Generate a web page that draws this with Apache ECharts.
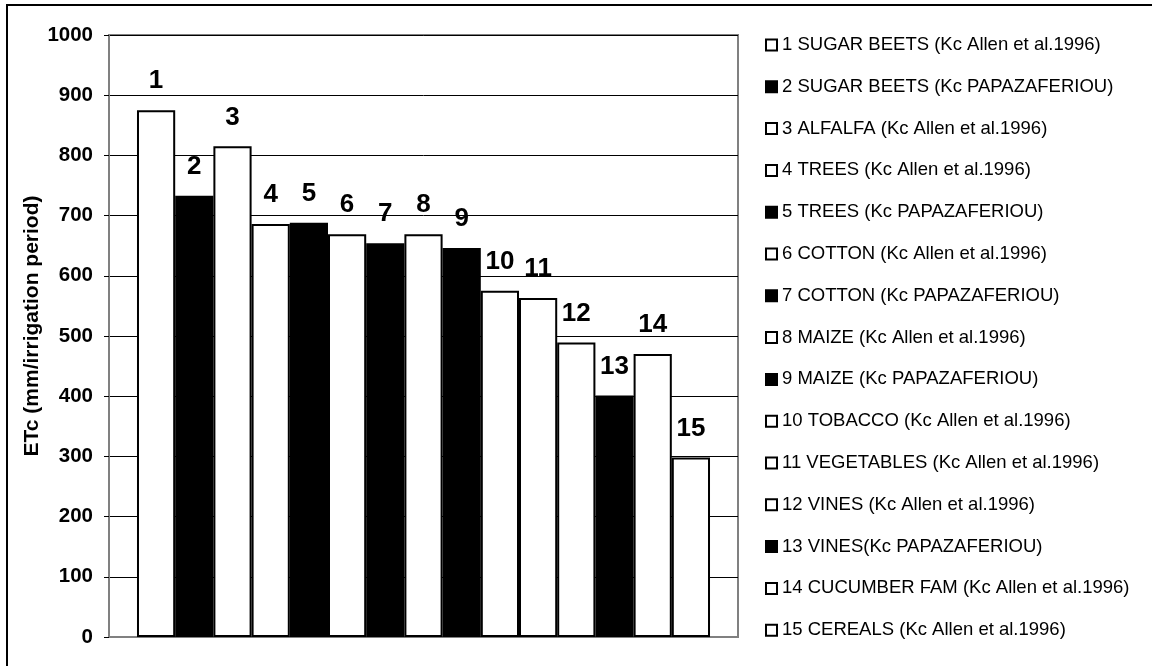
<!DOCTYPE html>
<html>
<head>
<meta charset="utf-8">
<script src="https://cdn.jsdelivr.net/npm/echarts@6/dist/echarts.min.js"></script>
<style>
  html, body { margin: 0; padding: 0; background: #fff; }
  #chart { width: 1152px; height: 666px; }
</style>
</head>
<body>
<div id="chart"></div>
<script>
// Crop water requirement per irrigation period, by crop and Kc source
const crops = [
  '1 SUGAR BEETS (Kc Allen et al.1996)',
  '2 SUGAR BEETS (Kc PAPAZAFERIOU)',
  '3 ALFALFA (Kc Allen et al.1996)',
  '4 TREES (Kc Allen et al.1996)',
  '5 TREES (Kc PAPAZAFERIOU)',
  '6 COTTON (Kc Allen et al.1996)',
  '7 COTTON (Kc PAPAZAFERIOU)',
  '8 MAIZE (Kc Allen et al.1996)',
  '9 MAIZE (Kc PAPAZAFERIOU)',
  '10 TOBACCO (Kc Allen et al.1996)',
  '11 VEGETABLES (Kc Allen et al.1996)',
  '12 VINES (Kc Allen et al.1996)',
  '13 VINES(Kc PAPAZAFERIOU)',
  '14 CUCUMBER FAM (Kc Allen et al.1996)',
  '15 CEREALS (Kc Allen et al.1996)'
];
const barNumbers = ['1','2','3','4','5','6','7','8','9','10','11','12','13','14','15'];
const etc = [875, 733, 815, 686, 688, 669, 654, 669, 646, 575, 563, 489, 401, 470, 298];
const yTicks = [0, 100, 200, 300, 400, 500, 600, 700, 800, 900, 1000];

const FONT = "'Liberation Sans', Arial, sans-serif";

const series = crops.map((name, i) => {
  const local = name.indexOf('PAPAZAFERIOU') >= 0;
  return {
    name: name,
    type: 'bar',
    data: [etc[i]],
    barGap: '0%',
    barCategoryGap: '8.9%',
    itemStyle: {
      color: local ? '#000' : '#fff',
      borderColor: '#000',
      borderWidth: 2
    },
    label: {
      show: true,
      position: 'top',
      distance: 16,
      formatter: () => barNumbers[i],
      color: '#000',
      fontFamily: FONT,
      fontWeight: 'bold',
      fontSize: 26
    },
    emphasis: { disabled: true },
    animation: false
  };
});

const chart = echarts.init(document.getElementById('chart'), null, { renderer: 'canvas' });
chart.setOption({
  backgroundColor: '#fff',
  animation: false,
  grid: {
    left: 109, top: 35, right: 414, bottom: 29,
    show: true,
    borderColor: '#808080',
    borderWidth: 2,
    backgroundColor: 'transparent'
  },
  xAxis: {
    type: 'category',
    data: ['ETc'],
    axisLine: { show: true, lineStyle: { color: '#808080', width: 2 } },
    axisTick: { show: false },
    axisLabel: { show: false }
  },
  yAxis: {
    type: 'value',
    min: yTicks[0],
    max: yTicks[yTicks.length - 1],
    interval: 100,
    name: 'ETc (mm/irrigation period)',
    nameLocation: 'middle',
    nameGap: 66,
    nameMoveOverlap: false,
    nameTextStyle: {
      color: '#000', fontFamily: FONT, fontWeight: 'bold', fontSize: 21,
      padding: [0, 0, 0, 20]
    },
    axisLine: { show: true, lineStyle: { color: '#808080', width: 2 } },
    axisTick: { show: true, length: 5, lineStyle: { color: '#000', width: 1 } },
    axisLabel: {
      margin: 16,
      formatter: v => String(v),
      color: '#000', fontFamily: FONT, fontWeight: 'bold', fontSize: 20.5
    },
    splitLine: { show: true, lineStyle: { color: '#000', width: 1 } }
  },
  legend: {
    orient: 'vertical',
    left: 765,
    top: 35,
    padding: 0,
    itemWidth: 11,
    itemHeight: 11,
    itemGap: 21.8,
    icon: 'rect',
    selectedMode: false,
    itemStyle: { borderColor: '#000', borderWidth: 2 },
    textStyle: {
      color: '#000', fontFamily: FONT, fontSize: 18.5, lineHeight: 20,
      padding: [0, 0, 0, 0]
    },
    data: crops
  },
  graphic: [{
    type: 'rect',
    shape: { x: 7, y: 5, width: 1200, height: 700 },
    style: { fill: 'none', stroke: '#000', lineWidth: 2 },
    silent: true
  }],
  series: series
});
</script>
</body>
</html>
